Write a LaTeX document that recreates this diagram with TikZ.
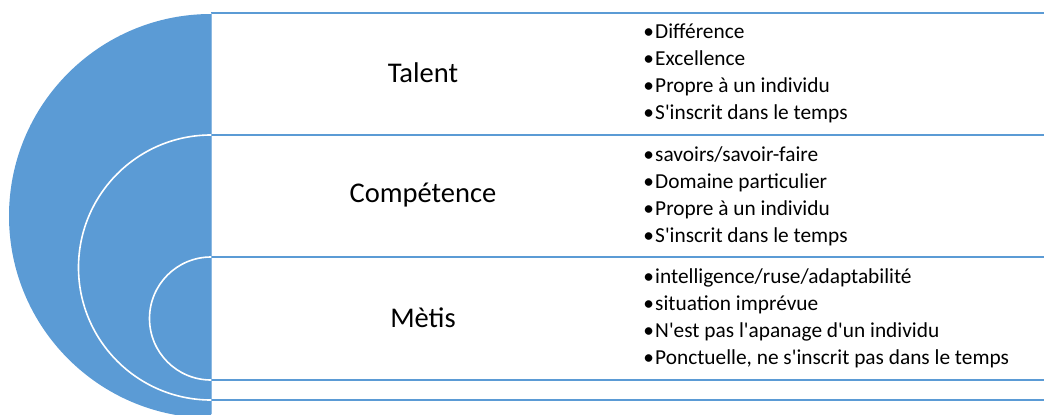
\documentclass[tikz,border=0pt]{standalone}
\usepackage{fontspec}
\newfontfamily\carlito{Carlito}
\definecolor{officeblue}{HTML}{5B9BD5}

\begin{document}
\begin{tikzpicture}[x=0.75pt,y=-0.75pt,
  band/.style={officeblue,line width=1.7pt},
  ring/.style={white,line width=1.2pt},
  title/.style={font=\carlito\fontsize{21.4}{25}\selectfont},
  items/.style={anchor=west,align=left,inner sep=0pt,font=\carlito\fontsize{16}{20.25}\selectfont}]

\useasboundingbox (0,0) rectangle (1044,414);

% half disk with the nested rings
\begin{scope}
\clip (0,0) rectangle (211,414);
\fill[officeblue] (211,216) circle (202);
\draw[ring] (211,267.5) circle (132.5);
\draw[ring] (211,318.5) circle (61.5);
\end{scope}

\foreach \y in {13,135,257,380,400}
  \draw[band] (211,\y) -- (1044,\y);
\draw[officeblue!70!white,line width=1.2pt] (211.5,13) -- (211.5,414);

\node[title] (talent) at (423,73) {Talent};
\node[title] (competence) at (423,195) {Compétence};
\node[title] (metis) at (423,318) {Mètis};

\node[items] (talentlist) at (643,73.5) {\textbullet\kern1pt Différence\\
  \textbullet\kern1pt Excellence\\
  \textbullet\kern1pt Propre à un individu\\
  \textbullet\kern1pt S'inscrit dans le temps};
\node[items] (competencelist) at (643,196) {\textbullet\kern1pt savoirs/savoir-faire\\
  \textbullet\kern1pt Domaine particulier\\
  \textbullet\kern1pt Propre à un individu\\
  \textbullet\kern1pt S'inscrit dans le temps};
\node[items] (metislist) at (643,318.5) {\textbullet\kern1pt intelligence/ruse/adaptabilité\\
  \textbullet\kern1pt situation imprévue\\
  \textbullet\kern1pt N'est pas l'apanage d'un individu\\
  \textbullet\kern1pt Ponctuelle, ne s'inscrit pas dans le temps};

\end{tikzpicture}
\end{document}
